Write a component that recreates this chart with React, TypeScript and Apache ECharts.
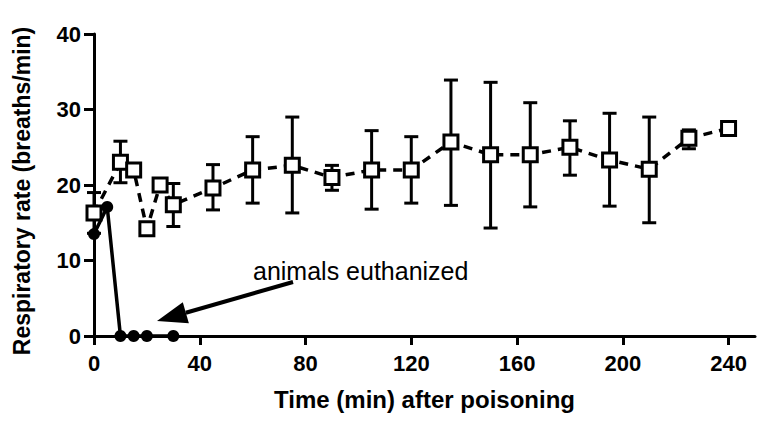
import React, { useEffect, useRef } from "react";
import * as echarts from "echarts";

const xTicks = [0, 40, 80, 120, 160, 200, 240];
const yTicks = [0, 10, 20, 30, 40];

// Group that survived (open squares, dashed)
const survTime = [0, 10, 15, 20, 25, 30, 45, 60, 75, 90, 105, 120, 135, 150, 165, 180, 195, 210, 225, 240];
const survMean = [16.3, 23.0, 22.0, 14.2, 20.0, 17.4, 19.6, 22.0, 22.6, 21.0, 22.0, 22.0, 25.7, 24.0, 24.0, 25.0, 23.3, 22.1, 26.2, 27.5];
const survLow: (number | null)[] = [13.6, 20.3, null, null, null, 14.5, 16.7, 17.6, 16.3, 19.3, 16.8, 17.6, 17.3, 14.3, 17.1, 21.3, 17.2, 15.0, 24.8, null];
const survHigh: (number | null)[] = [19.0, 25.8, null, null, null, 20.2, 22.7, 26.4, 29.0, 22.6, 27.2, 26.4, 33.9, 33.6, 30.9, 28.5, 29.5, 29.0, 27.3, null];

// Euthanized group (filled circles, solid)
const euthTime = [0, 5, 10, 15, 20, 30];
const euthMean = [13.5, 17.1, 0, 0, 0, 0];

const annotationText = "animals euthanized";
const xTitle = "Time (min) after poisoning";
const yTitle = "Respiratory rate (breaths/min)";

const FONT = "'Liberation Sans', Arial, Helvetica, sans-serif";

export default function App() {
  const ref = useRef<HTMLDivElement>(null);
  useEffect(() => {
    if (!ref.current) return;
    const chart = echarts.init(ref.current, undefined, { renderer: "svg" });

    const errData = survTime
      .map((t, i) => [t, survLow[i], survHigh[i]])
      .filter((d) => d[1] !== null && d[2] !== null);

    // arrow geometry (annotation)
    const start = [293, 282];
    const tip = [157, 321];
    const dx = tip[0] - start[0];
    const dy = tip[1] - start[1];
    const len = Math.sqrt(dx * dx + dy * dy);
    const ux = dx / len;
    const uy = dy / len;
    const headLen = 30;
    const headHalf = 11;
    const bx = tip[0] - ux * headLen;
    const by = tip[1] - uy * headLen;
    const px = -uy;
    const py = ux;

    chart.setOption({
      animation: false,
      backgroundColor: "#ffffff",
      textStyle: { fontFamily: FONT },
      grid: { left: 94, right: 9, top: 34, bottom: 85, containLabel: false },
      xAxis: {
        type: "value",
        min: 0,
        max: 250,
        name: xTitle,
        nameLocation: "middle",
        nameGap: 51,
        nameTextStyle: { fontSize: 24, fontWeight: "bold", color: "#000", fontFamily: FONT },
        axisLine: { show: true, onZero: false, lineStyle: { color: "#000", width: 3 } },
        axisTick: { show: true, length: 9, lineStyle: { color: "#000", width: 3 }, customValues: xTicks },
        axisLabel: { fontSize: 22, fontWeight: "bold", color: "#000", margin: 16, fontFamily: FONT, customValues: xTicks },
        splitLine: { show: false },
      },
      yAxis: {
        type: "value",
        min: 0,
        max: 40,
        interval: 10,
        axisLine: { show: true, lineStyle: { color: "#000", width: 3 } },
        axisTick: { show: true, length: 10, lineStyle: { color: "#000", width: 3 } },
        axisLabel: { fontSize: 22, fontWeight: "bold", color: "#000", margin: 13, fontFamily: FONT, formatter: (v: number) => (yTicks.includes(v) ? String(v) : "") },
        splitLine: { show: false },
      },
      series: [
        {
          type: "custom",
          name: "err",
          z: 2,
          data: errData,
          renderItem: (params: any, api: any) => {
            const x = api.value(0);
            const lo = api.coord([x, api.value(1)]);
            const hi = api.coord([x, api.value(2)]);
            const w = 7;
            const style = { stroke: "#000", lineWidth: 3 };
            return {
              type: "group",
              children: [
                { type: "line", shape: { x1: lo[0], y1: lo[1], x2: hi[0], y2: hi[1] }, style },
                { type: "line", shape: { x1: lo[0] - w, y1: lo[1], x2: lo[0] + w, y2: lo[1] }, style },
                { type: "line", shape: { x1: hi[0] - w, y1: hi[1], x2: hi[0] + w, y2: hi[1] }, style },
              ],
            };
          },
        },
        {
          type: "line",
          name: "survived",
          z: 3,
          data: survTime.map((t, i) => [t, survMean[i]]),
          symbol: "rect",
          symbolSize: 14,
          showAllSymbol: true,
          lineStyle: { color: "#000", width: 3.5, type: [9, 7] },
          itemStyle: { color: "#fff", borderColor: "#000", borderWidth: 3 },
        },
        {
          type: "line",
          name: "euthanized",
          z: 4,
          data: euthTime.map((t, i) => [t, euthMean[i]]),
          symbol: "circle",
          symbolSize: 12,
          showAllSymbol: true,
          lineStyle: { color: "#000", width: 3.5 },
          itemStyle: { color: "#000", borderColor: "#000", borderWidth: 0 },
        },
      ],
      graphic: [
        {
          type: "text",
          x: 22,
          y: 191,
          rotation: Math.PI / 2,
          style: {
            text: yTitle,
            fontSize: 23,
            fontWeight: "bold",
            fontFamily: FONT,
            fill: "#000",
            align: "center",
            verticalAlign: "middle",
          },
        },
        {
          type: "text",
          left: 253,
          top: 258,
          style: { text: annotationText, fontSize: 25, fontFamily: FONT, fill: "#000" },
        },
        {
          type: "line",
          shape: { x1: start[0], y1: start[1], x2: bx, y2: by },
          style: { stroke: "#000", lineWidth: 4 },
        },
        {
          type: "polygon",
          shape: {
            points: [
              [tip[0], tip[1]],
              [bx + px * headHalf, by + py * headHalf],
              [bx - px * headHalf, by - py * headHalf],
            ],
          },
          style: { fill: "#000" },
        },
      ],
    });
    return () => chart.dispose();
  }, []);
  return <div ref={ref} style={{ position: "fixed", left: 0, top: 0, width: 764, height: 421 }} />;
}
